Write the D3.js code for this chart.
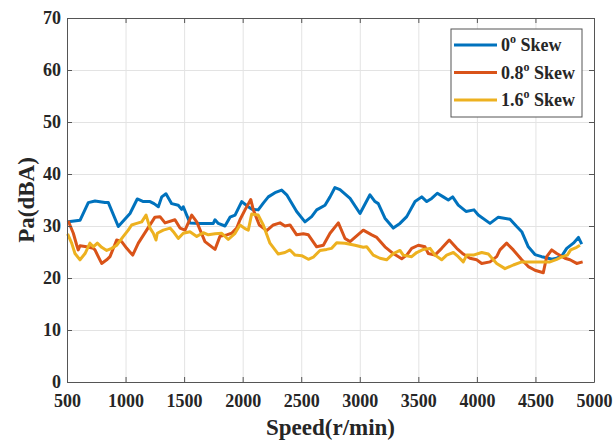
<!DOCTYPE html>
<html>
<head>
<meta charset="utf-8">
<script src="https://cdn.jsdelivr.net/npm/d3@7"></script>
<style>
  body { margin: 0; background: #fff; }
  svg text { font-family: "Liberation Serif", "Times New Roman", serif; font-weight: bold; fill: #262626; }
</style>
</head>
<body>
<svg id="chart" width="614" height="441"></svg>
<script>
// series data: [speed r/min, Pa dBA]
const skew0 = [[510,30.8],[611,31.1],[682,34.5],[739,34.8],[824,34.5],[853,34.5],[938,29.9],[1038,32.4],[1100,35.2],[1152,34.7],[1209,34.7],[1243,34.3],[1280,33.7],[1309,35.6],[1345,36.2],[1394,34.3],[1450,34.0],[1479,33.2],[1493,33.7],[1522,32.1],[1550,30.6],[1636,30.5],[1749,30.5],[1764,31.2],[1792,30.5],[1849,30.0],[1892,31.7],[1935,32.1],[1992,34.7],[2048,33.7],[2080,33.2],[2133,33.1],[2176,34.4],[2219,35.6],[2276,36.4],[2333,36.9],[2376,36.0],[2461,32.8],[2532,30.8],[2589,31.8],[2632,33.1],[2703,34.0],[2746,35.6],[2788,37.4],[2831,37.0],[2917,35.3],[3002,32.4],[3087,36.0],[3130,34.7],[3158,34.3],[3215,31.5],[3286,29.6],[3343,30.5],[3401,31.8],[3472,34.7],[3529,35.6],[3572,34.7],[3614,35.3],[3662,36.3],[3713,35.6],[3756,35.0],[3793,35.6],[3841,34.0],[3907,32.8],[3975,33.1],[4012,32.1],[4112,30.5],[4183,31.7],[4283,31.3],[4340,29.9],[4383,28.9],[4439,26.0],[4496,24.5],[4553,24.1],[4596,23.9],[4639,23.6],[4682,23.8],[4730,24.4],[4767,25.7],[4824,26.7],[4867,27.8],[4895,26.5]];

const skew08 = [[510,31.0],[554,28.6],[583,26.3],[596,25.4],[611,26.2],[668,26.0],[725,25.7],[739,25.4],[767,24.1],[796,22.8],[839,23.5],[867,24.1],[924,27.3],[967,27.0],[1010,25.7],[1061,24.4],[1109,26.7],[1180,29.2],[1251,31.7],[1294,31.8],[1337,30.6],[1422,31.2],[1465,29.6],[1508,29.2],[1565,32.1],[1608,30.8],[1678,27.0],[1764,25.5],[1806,28.0],[1864,28.3],[1906,28.6],[1949,29.6],[1977,31.2],[2020,33.1],[2069,35.1],[2091,33.1],[2142,30.2],[2205,29.1],[2262,30.2],[2319,30.6],[2361,30.0],[2404,30.2],[2461,28.3],[2518,28.5],[2561,28.3],[2632,26.0],[2689,26.3],[2746,28.6],[2817,30.6],[2874,27.6],[2917,27.0],[3030,29.2],[3102,28.3],[3145,27.8],[3215,26.0],[3286,24.7],[3358,23.7],[3401,24.4],[3443,25.7],[3500,26.3],[3557,26.0],[3585,24.7],[3642,24.4],[3699,25.7],[3764,27.3],[3828,25.7],[3884,24.6],[3941,23.8],[3998,23.5],[4041,22.8],[4112,23.1],[4169,24.1],[4197,25.4],[4254,26.7],[4311,25.4],[4383,23.5],[4439,22.2],[4496,21.5],[4567,21.0],[4596,24.1],[4639,25.4],[4682,24.7],[4752,23.8],[4795,23.5],[4852,22.8],[4903,23.1]];

const skew16 = [[505,28.5],[540,26.7],[568,24.7],[611,23.5],[654,24.7],[696,26.7],[725,26.0],[759,26.7],[796,25.9],[839,25.3],[882,25.7],[924,26.3],[981,28.0],[1023,29.2],[1052,30.2],[1095,30.5],[1138,30.8],[1175,32.1],[1209,29.6],[1237,28.6],[1260,27.3],[1271,28.6],[1322,29.2],[1380,29.6],[1408,28.9],[1450,27.6],[1493,28.6],[1550,28.9],[1608,28.0],[1664,28.7],[1707,28.3],[1764,28.5],[1821,28.6],[1877,27.4],[1935,28.6],[1977,30.2],[2020,29.5],[2048,29.2],[2077,32.3],[2133,32.1],[2176,30.2],[2233,26.7],[2304,24.6],[2361,24.9],[2404,25.4],[2447,24.4],[2504,24.3],[2561,23.6],[2603,24.0],[2660,25.3],[2717,25.5],[2760,25.7],[2803,26.8],[2874,26.7],[2959,26.3],[3030,25.9],[3059,26.0],[3115,24.4],[3172,23.8],[3229,23.5],[3286,24.7],[3343,25.3],[3371,24.4],[3443,24.1],[3486,24.9],[3543,25.5],[3600,25.7],[3642,24.4],[3699,23.5],[3742,24.4],[3799,24.9],[3841,24.1],[3884,23.1],[3913,24.4],[3970,24.4],[4041,24.9],[4098,24.6],[4169,22.8],[4240,21.8],[4311,22.5],[4383,23.1],[4453,23.1],[4553,23.1],[4624,23.1],[4682,23.6],[4730,24.1],[4772,24.4],[4801,25.4],[4852,25.9],[4880,26.3]];

const xTicks = [500,1000,1500,2000,2500,3000,3500,4000,4500,5000];
const yTicks = [0,10,20,30,40,50,60,70];
const seriesNames = ['0', '0.8', '1.6'];
const seriesColors = ['#0072BD', '#D95319', '#EDB120'];

// plot box
const LEFT = 67, RIGHT = 594, TOP = 18, BOTTOM = 382;
const W = RIGHT - LEFT, H = BOTTOM - TOP;

const svg = d3.select('#chart');
const x = d3.scaleLinear().domain([500, 5000]).range([0, W]);
const y = d3.scaleLinear().domain([0, 70]).range([H, 0]);

const g = svg.append('g').attr('transform', `translate(${LEFT},${TOP})`);

// grid
g.append('g')
  .attr('transform', `translate(0,${H})`)
  .call(d3.axisBottom(x).tickValues(xTicks).tickSize(-H).tickFormat(''))
  .call(a => a.select('.domain').remove())
  .call(a => a.selectAll('line').attr('stroke', '#e3e3e3').attr('stroke-width', 1));
g.append('g')
  .call(d3.axisLeft(y).tickValues(yTicks).tickSize(-W).tickFormat(''))
  .call(a => a.select('.domain').remove())
  .call(a => a.selectAll('line').attr('stroke', '#e3e3e3').attr('stroke-width', 1));

// lines
const line = d3.line().x(d => x(d[0])).y(d => y(d[1]));
[skew0, skew08, skew16].forEach((s, i) => {
  g.append('path')
    .datum(s)
    .attr('fill', 'none')
    .attr('stroke', seriesColors[i])
    .attr('stroke-width', 3)
    .attr('stroke-linejoin', 'round')
    .attr('d', line);
});

// axes (ticks inward, box on)
const axisColor = '#555';
function styleAxis(a) {
  a.select('.domain').attr('stroke', axisColor);
  a.selectAll('.tick line').attr('stroke', axisColor);
  a.selectAll('.tick text').style('font-size', '18px');
}
g.append('g')
  .attr('transform', `translate(0,${H})`)
  .call(d3.axisBottom(x).tickValues(xTicks).tickSize(-5).tickSizeOuter(0).tickPadding(0).tickFormat(d3.format('d')))
  .call(styleAxis)
  .call(a => a.selectAll('.tick text').attr('y', 25).attr('dy', 0));
g.append('g')
  .call(d3.axisTop(x).tickValues(xTicks).tickSize(-5).tickSizeOuter(0).tickFormat(''))
  .call(styleAxis);
g.append('g')
  .call(d3.axisLeft(y).tickValues(yTicks).tickSize(-5).tickSizeOuter(0).tickPadding(0).tickFormat(d3.format('d')))
  .call(styleAxis)
  .call(a => a.selectAll('.tick text').attr('x', -6).attr('dy', '0.33em'));
g.append('g')
  .attr('transform', `translate(${W},0)`)
  .call(d3.axisRight(y).tickValues(yTicks).tickSize(-5).tickSizeOuter(0).tickFormat(''))
  .call(styleAxis);

// axis titles
svg.append('text')
  .attr('x', LEFT + W / 2)
  .attr('y', 435)
  .attr('text-anchor', 'middle')
  .style('font-size', '23px')
  .text('Speed(r/min)');
svg.append('text')
  .attr('transform', `translate(34,${TOP + H / 2}) rotate(-90)`)
  .attr('text-anchor', 'middle')
  .style('font-size', '23px')
  .text('Pa(dBA)');

// legend
const legend = svg.append('g').attr('transform', 'translate(451,29)');
legend.append('rect')
  .attr('width', 131).attr('height', 88)
  .attr('fill', '#fff').attr('stroke', axisColor).attr('stroke-width', 1);
seriesNames.forEach((name, i) => {
  const ly = 16 + i * 27.5;
  legend.append('line')
    .attr('x1', 3).attr('x2', 46).attr('y1', ly).attr('y2', ly)
    .attr('stroke', seriesColors[i]).attr('stroke-width', 3);
  const t = legend.append('text')
    .attr('x', 50).attr('y', ly + 6)
    .style('font-size', '18px');
  t.append('tspan').text(name);
  t.append('tspan').attr('dy', -8).style('font-size', '12px').text('o');
  t.append('tspan').attr('dy', 8).text(' Skew');
});
</script>
</body>
</html>
